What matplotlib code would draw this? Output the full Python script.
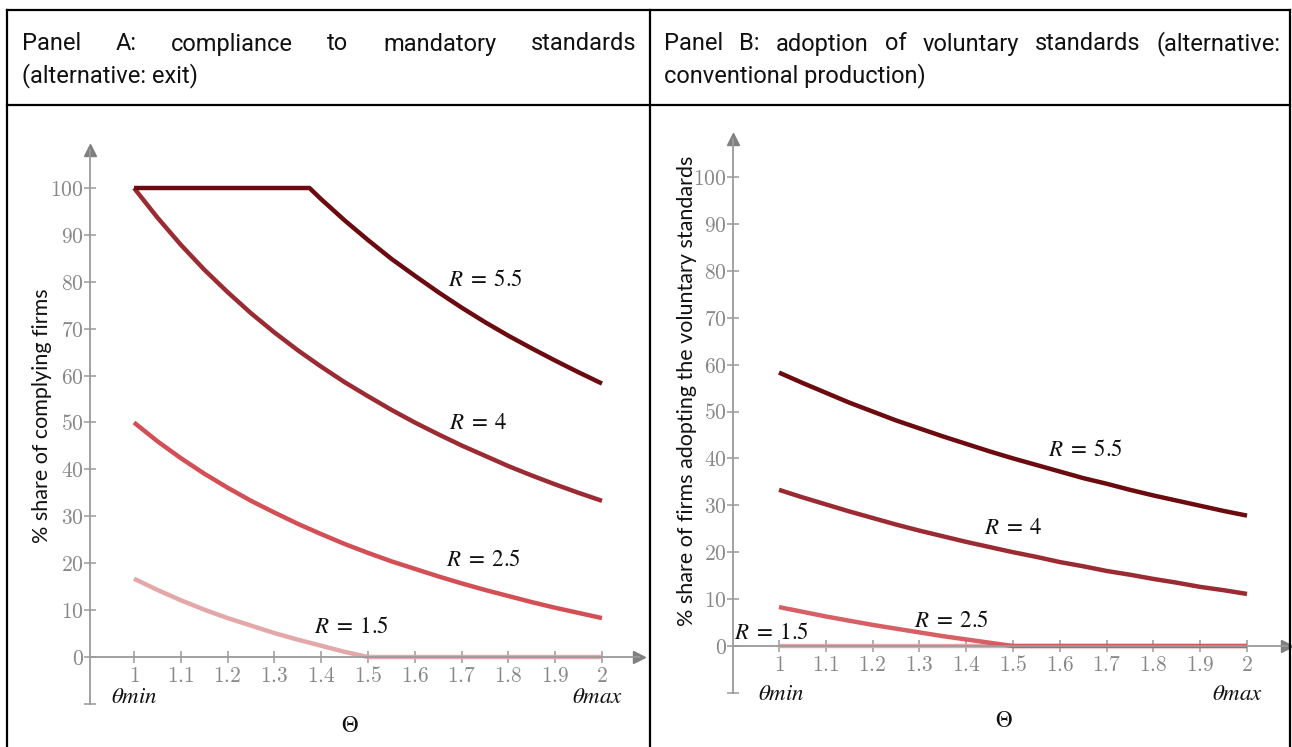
import matplotlib
matplotlib.use('Agg')
import matplotlib.pyplot as plt
from matplotlib.lines import Line2D
from matplotlib.ticker import FixedLocator

# ---- data ----
theta = [1.0, 1.05, 1.1, 1.15, 1.2, 1.25, 1.3, 1.35, 1.4, 1.45, 1.5,
         1.55, 1.6, 1.65, 1.7, 1.75, 1.8, 1.85, 1.9, 1.95, 2.0]
theta_a55 = [1.0, 1.375, 1.4, 1.45, 1.5, 1.55, 1.6, 1.65, 1.7, 1.75, 1.8, 1.85, 1.9, 1.95, 2.0]

# Panel A: compliance to mandatory standards
a_r55 = [100, 100, 97.6, 93.1, 88.9, 84.9, 81.3, 77.8, 74.5, 71.4, 68.5, 65.8, 63.2, 60.7, 58.3]
a_r4 = [100, 93.7, 87.9, 82.6, 77.8, 73.3, 69.2, 65.4, 61.9, 58.6, 55.6,
        52.7, 50.0, 47.5, 45.1, 42.9, 40.7, 38.7, 36.8, 35.0, 33.3]
a_r25 = [50.0, 46.0, 42.4, 39.1, 36.1, 33.3, 30.8, 28.4, 26.2, 24.1, 22.2,
         20.4, 18.8, 17.2, 15.7, 14.3, 13.0, 11.7, 10.5, 9.4, 8.3]
a_r15 = [16.7, 14.3, 12.1, 10.1, 8.3, 6.7, 5.1, 3.7, 2.4, 1.1, 0,
         0, 0, 0, 0, 0, 0, 0, 0, 0, 0]

# Panel B: adoption of voluntary standards
b_r55 = [58.3, 56.1, 54.0, 51.9, 50.0, 48.1, 46.4, 44.7, 43.1, 41.5, 40.0,
         38.6, 37.2, 35.8, 34.6, 33.3, 32.1, 31.0, 29.9, 28.8, 27.8]
b_r4 = [33.3, 31.7, 30.2, 28.7, 27.3, 25.9, 24.6, 23.4, 22.2, 21.1, 20.0,
        19.0, 17.9, 17.0, 16.0, 15.2, 14.3, 13.5, 12.6, 11.9, 11.1]
b_r25 = [8.3, 7.3, 6.3, 5.4, 4.5, 3.7, 2.9, 2.1, 1.4, 0.7, 0,
         0, 0, 0, 0, 0, 0, 0, 0, 0, 0]
b_r15 = [0] * 21

xticks = [1, 1.1, 1.2, 1.3, 1.4, 1.5, 1.6, 1.7, 1.8, 1.9, 2]
xticklabels = ['1', '1.1', '1.2', '1.3', '1.4', '1.5', '1.6', '1.7', '1.8', '1.9', '2']
yticks = [-10, 0, 10, 20, 30, 40, 50, 60, 70, 80, 90, 100]

c55 = '#6b0a0f'
c4 = '#9b2b32'
c25 = '#d24f55'
c15 = '#e3a3a5'
grey = '#9a9a9a'

W, H = 1292, 747
fig = plt.figure(figsize=(W / 100, H / 100), dpi=100)
plt.rcParams['mathtext.fontset'] = 'stix'


def fx(px):
    return px / W


def fy(py):
    return 1 - py / H


# table frame
for (x0, y0, x1, y1) in [(7, 10, 1290, 10), (7, 105, 1290, 105), (7, 10, 7, 747),
                         (650, 10, 650, 747), (1290, 10, 1290, 747)]:
    fig.add_artist(Line2D([fx(x0), fx(x1)], [fy(y0), fy(y1)], color='black', lw=1.6))

hfont = dict(family='Roboto', fontsize=17, color='#111111', va='center')


def justify(words, left, right, ypx):
    txts = [fig.text(0, fy(ypx), w, **hfont) for w in words]
    fig.canvas.draw()
    r = fig.canvas.get_renderer()
    widths = [t.get_window_extent(r).width for t in txts]
    gap = (right - left - sum(widths)) / (len(words) - 1)
    x = left
    for t, w in zip(txts, widths):
        t.set_x(fx(x))
        x += w + gap


justify(['Panel', 'A:', 'compliance', 'to', 'mandatory', 'standards'], 22, 636, 44)
fig.text(fx(22), fy(76), '(alternative: exit)', **hfont)
justify(['Panel', 'B:', 'adoption', 'of', 'voluntary', 'standards', '(alternative:'], 664, 1281, 44)
fig.text(fx(664), fy(76), 'conventional production)', **hfont)


def make_axes(x1px, y0px, yaxis_x, ytop, xright):
    # pixel scale: 0.1 in theta = 46.8 px, 10 % = 46.9 px
    sx, sy = 468.0, 4.69
    xl, xr, yb, yt = 0.86, 2.14, -14, 114
    left = x1px + (xl - 1) * sx
    right = x1px + (xr - 1) * sx
    bottom = y0px - yb * sy
    top = y0px - yt * sy
    ax = fig.add_axes([fx(left), fy(bottom), fx(right - left), (bottom - top) / H])
    ax.set_xlim(xl, xr)
    ax.set_ylim(yb, yt)
    ax.patch.set_alpha(0)
    for s in ['top', 'right']:
        ax.spines[s].set_visible(False)
    ax.spines['left'].set_position(('data', yaxis_x))
    ax.spines['bottom'].set_position(('data', 0))
    ax.spines['left'].set_bounds(-10, ytop)
    ax.spines['bottom'].set_bounds(yaxis_x, xright)
    for s in ['left', 'bottom']:
        ax.spines[s].set_color(grey)
        ax.spines[s].set_linewidth(1.3)
    ax.plot([yaxis_x], [ytop], marker='^', color='#808080', ms=8, clip_on=False)
    ax.plot([xright], [0], marker='>', color='#808080', ms=8, clip_on=False)
    ax.xaxis.set_major_locator(FixedLocator(xticks))
    ax.set_xticklabels([r'$\mathbf{' + s + '}$' for s in xticklabels])
    ax.yaxis.set_major_locator(FixedLocator(yticks))
    ax.set_yticklabels([''] + [r'$\mathbf{' + str(v) + '}$' for v in yticks[1:]])
    ax.tick_params(direction='inout', length=9, width=1.1, color=grey,
                   labelcolor='#888888', labelsize=15.5)
    ax.tick_params(axis='x', pad=2)
    ax.tick_params(axis='y', pad=0)
    for lab in ax.get_xticklabels() + ax.get_yticklabels():
        lab.set_math_fontfamily('cm')
    return ax


lw = 3.2
rfont = dict(fontsize=16.5, ha='center', va='center', color='#111111')

# ---- Panel A ----
axA = make_axes(134, 657, 0.906, 108, 2.08)
axA.plot(theta, a_r15, color=c15, lw=lw, solid_capstyle='butt', alpha=0.95)
axA.plot(theta, a_r25, color=c25, lw=lw, solid_capstyle='butt')
axA.plot(theta, a_r4, color=c4, lw=lw, solid_capstyle='butt')
axA.plot(theta_a55, a_r55, color=c55, lw=lw, solid_capstyle='butt')
axA.text(1.75, 80.4, r'$R\;=\;5.5$', **rfont)
axA.text(1.735, 49.9, r'$R\;=\;4$', **rfont)
axA.text(1.747, 20.7, r'$R\;=\;2.5$', **rfont)
axA.text(1.465, 6.4, r'$R\;=\;1.5$', **rfont)
axA.text(1.0, -8.5, r'$\theta min$', **rfont)
axA.text(1.991, -8.5, r'$\theta max$', **rfont)
axA.text(1.462, -14.5, r'$\Theta$', **rfont)
fig.text(fx(42), fy(416), '% share of complying firms', family='Lato', fontsize=15.5,
         rotation=90, ha='center', va='center', color='#111111')

# ---- Panel B ----
axB = make_axes(779, 646, 0.902, 108, 2.085)
axB.plot(theta, b_r15, color=c15, lw=lw, solid_capstyle='butt', alpha=0.95)
axB.plot(theta, b_r25, color=c25, lw=lw, solid_capstyle='butt', alpha=0.9)
axB.plot(theta, b_r4, color=c4, lw=lw, solid_capstyle='butt')
axB.plot(theta, b_r55, color=c55, lw=lw, solid_capstyle='butt')
axB.text(1.655, 41.8, r'$R\;=\;5.5$', **rfont)
axB.text(1.501, 25.2, r'$R\;=\;4$', **rfont)
axB.text(1.368, 5.5, r'$R\;=\;2.5$', **rfont)
axB.text(0.983, 2.9, r'$R\;=\;1.5$', **rfont)
axB.text(1.006, -10.2, r'$\theta min$', **rfont)
axB.text(1.98, -10.2, r'$\theta max$', **rfont)
axB.text(1.48, -15.8, r'$\Theta$', **rfont)
fig.text(fx(687), fy(391), '% share of firms adopting the voluntary standards', family='Lato',
         fontsize=15.5, rotation=90, ha='center', va='center', color='#111111')

fig.savefig('out.png', dpi=100)
